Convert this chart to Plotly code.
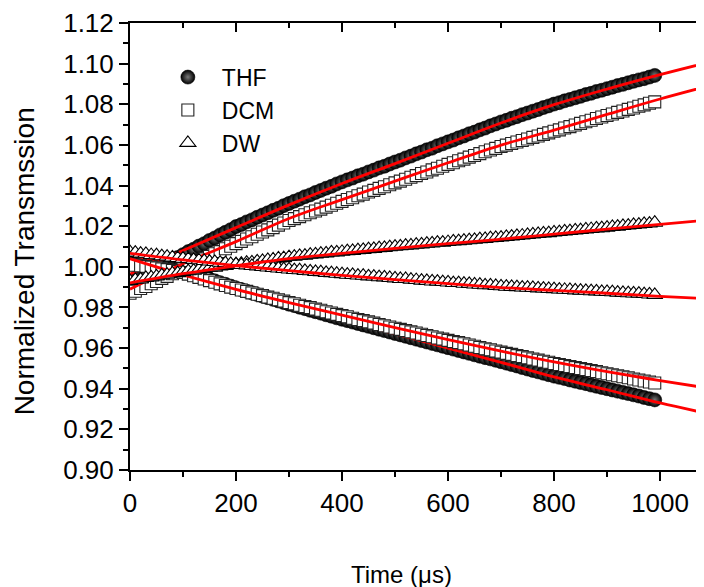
import plotly.graph_objects as go

# ---------------- data ----------------
time_us = list(range(0, 1000, 10))  # sample times, µs

thf_up = [
    0.9930, 0.9938, 0.9951, 0.9962, 0.9978, 0.9990, 1.0004, 1.0018, 1.0031, 1.0046,
    1.0060, 1.0075, 1.0087, 1.0102, 1.0114, 1.0130, 1.0142, 1.0157, 1.0170, 1.0183,
    1.0198, 1.0208, 1.0221, 1.0231, 1.0244, 1.0255, 1.0266, 1.0278, 1.0288, 1.0301,
    1.0312, 1.0323, 1.0333, 1.0345, 1.0354, 1.0366, 1.0376, 1.0387, 1.0396, 1.0408,
    1.0418, 1.0428, 1.0437, 1.0448, 1.0456, 1.0467, 1.0476, 1.0487, 1.0495, 1.0506,
    1.0516, 1.0525, 1.0536, 1.0545, 1.0556, 1.0565, 1.0576, 1.0584, 1.0596, 1.0605,
    1.0615, 1.0624, 1.0635, 1.0644, 1.0655, 1.0663, 1.0674, 1.0683, 1.0694, 1.0703,
    1.0713, 1.0721, 1.0731, 1.0739, 1.0749, 1.0757, 1.0766, 1.0774, 1.0784, 1.0792,
    1.0801, 1.0808, 1.0817, 1.0824, 1.0832, 1.0839, 1.0848, 1.0854, 1.0863, 1.0869,
    1.0877, 1.0884, 1.0892, 1.0898, 1.0906, 1.0913, 1.0920, 1.0926, 1.0934, 1.0942,
]
thf_down = [
    1.0020, 1.0018, 1.0016, 1.0013, 1.0010, 1.0007, 1.0003, 0.9999, 0.9995, 0.9990,
    0.9985, 0.9976, 0.9967, 0.9958, 0.9949, 0.9940, 0.9931, 0.9922, 0.9914, 0.9905,
    0.9896, 0.9888, 0.9880, 0.9872, 0.9864, 0.9856, 0.9848, 0.9840, 0.9832, 0.9824,
    0.9816, 0.9809, 0.9801, 0.9794, 0.9786, 0.9779, 0.9772, 0.9764, 0.9757, 0.9749,
    0.9742, 0.9735, 0.9728, 0.9721, 0.9714, 0.9707, 0.9700, 0.9693, 0.9686, 0.9679,
    0.9672, 0.9665, 0.9658, 0.9651, 0.9644, 0.9637, 0.9630, 0.9623, 0.9616, 0.9609,
    0.9602, 0.9595, 0.9588, 0.9581, 0.9574, 0.9567, 0.9560, 0.9553, 0.9547, 0.9540,
    0.9533, 0.9526, 0.9519, 0.9512, 0.9504, 0.9497, 0.9490, 0.9483, 0.9476, 0.9469,
    0.9462, 0.9456, 0.9450, 0.9443, 0.9437, 0.9431, 0.9425, 0.9418, 0.9412, 0.9406,
    0.9400, 0.9394, 0.9388, 0.9382, 0.9376, 0.9370, 0.9364, 0.9357, 0.9351, 0.9345,
]
dcm_up = [
    0.9870, 0.9880, 0.9893, 0.9903, 0.9917, 0.9928, 0.9943, 0.9953, 0.9966, 0.9977,
    0.9990, 1.0001, 1.0015, 1.0026, 1.0039, 1.0051, 1.0064, 1.0075, 1.0089, 1.0101,
    1.0114, 1.0125, 1.0137, 1.0148, 1.0160, 1.0171, 1.0182, 1.0193, 1.0205, 1.0216,
    1.0228, 1.0237, 1.0247, 1.0256, 1.0266, 1.0275, 1.0284, 1.0294, 1.0303, 1.0313,
    1.0322, 1.0331, 1.0340, 1.0350, 1.0358, 1.0368, 1.0376, 1.0386, 1.0394, 1.0404,
    1.0413, 1.0422, 1.0431, 1.0441, 1.0449, 1.0459, 1.0467, 1.0477, 1.0485, 1.0495,
    1.0504, 1.0512, 1.0522, 1.0530, 1.0540, 1.0548, 1.0557, 1.0566, 1.0575, 1.0583,
    1.0592, 1.0599, 1.0607, 1.0614, 1.0622, 1.0629, 1.0637, 1.0644, 1.0652, 1.0659,
    1.0667, 1.0674, 1.0683, 1.0690, 1.0698, 1.0706, 1.0714, 1.0721, 1.0730, 1.0737,
    1.0745, 1.0752, 1.0760, 1.0767, 1.0775, 1.0782, 1.0790, 1.0797, 1.0805, 1.0812,
]
dcm_down = [
    1.0010, 1.0008, 1.0005, 1.0002, 0.9998, 0.9995, 0.9990, 0.9986, 0.9982, 0.9977,
    0.9972, 0.9964, 0.9956, 0.9948, 0.9940, 0.9932, 0.9924, 0.9916, 0.9908, 0.9900,
    0.9893, 0.9886, 0.9879, 0.9872, 0.9865, 0.9858, 0.9851, 0.9845, 0.9838, 0.9831,
    0.9824, 0.9818, 0.9811, 0.9805, 0.9799, 0.9792, 0.9786, 0.9779, 0.9773, 0.9766,
    0.9760, 0.9754, 0.9747, 0.9741, 0.9735, 0.9729, 0.9723, 0.9716, 0.9710, 0.9704,
    0.9698, 0.9692, 0.9686, 0.9680, 0.9674, 0.9668, 0.9662, 0.9656, 0.9650, 0.9644,
    0.9638, 0.9632, 0.9627, 0.9621, 0.9615, 0.9609, 0.9603, 0.9597, 0.9592, 0.9586,
    0.9580, 0.9574, 0.9569, 0.9563, 0.9558, 0.9552, 0.9546, 0.9541, 0.9535, 0.9530,
    0.9524, 0.9519, 0.9514, 0.9509, 0.9504, 0.9499, 0.9494, 0.9489, 0.9484, 0.9479,
    0.9474, 0.9469, 0.9464, 0.9459, 0.9454, 0.9448, 0.9443, 0.9438, 0.9433, 0.9428,
]
dw_up = [
    0.9930, 0.9936, 0.9938, 0.9945, 0.9948, 0.9953, 0.9958, 0.9961, 0.9967, 0.9969,
    0.9974, 0.9979, 0.9981, 0.9986, 0.9989, 0.9994, 0.9996, 1.0002, 1.0004, 1.0009,
    1.0013, 1.0015, 1.0020, 1.0022, 1.0027, 1.0029, 1.0034, 1.0036, 1.0041, 1.0043,
    1.0048, 1.0050, 1.0054, 1.0055, 1.0060, 1.0061, 1.0065, 1.0066, 1.0071, 1.0071,
    1.0074, 1.0077, 1.0078, 1.0082, 1.0083, 1.0087, 1.0088, 1.0092, 1.0093, 1.0097,
    1.0099, 1.0101, 1.0104, 1.0105, 1.0109, 1.0110, 1.0114, 1.0115, 1.0119, 1.0119,
    1.0122, 1.0125, 1.0126, 1.0129, 1.0131, 1.0133, 1.0136, 1.0137, 1.0141, 1.0142,
    1.0144, 1.0147, 1.0149, 1.0152, 1.0154, 1.0157, 1.0159, 1.0162, 1.0164, 1.0166,
    1.0169, 1.0171, 1.0174, 1.0176, 1.0179, 1.0181, 1.0184, 1.0186, 1.0189, 1.0190,
    1.0193, 1.0196, 1.0198, 1.0201, 1.0203, 1.0206, 1.0208, 1.0211, 1.0213, 1.0217,
]
dw_down = [
    1.0072, 1.0070, 1.0065, 1.0064, 1.0058, 1.0057, 1.0052, 1.0050, 1.0046, 1.0043,
    1.0040, 1.0038, 1.0034, 1.0032, 1.0029, 1.0026, 1.0024, 1.0020, 1.0018, 1.0014,
    1.0012, 1.0009, 1.0007, 1.0004, 1.0002, 0.9999, 0.9997, 0.9994, 0.9992, 0.9989,
    0.9987, 0.9984, 0.9983, 0.9980, 0.9978, 0.9975, 0.9974, 0.9970, 0.9969, 0.9966,
    0.9964, 0.9961, 0.9960, 0.9957, 0.9956, 0.9953, 0.9952, 0.9949, 0.9948, 0.9945,
    0.9943, 0.9940, 0.9940, 0.9937, 0.9935, 0.9932, 0.9931, 0.9928, 0.9927, 0.9925,
    0.9923, 0.9920, 0.9920, 0.9917, 0.9916, 0.9913, 0.9912, 0.9909, 0.9909, 0.9906,
    0.9904, 0.9902, 0.9901, 0.9900, 0.9898, 0.9897, 0.9896, 0.9894, 0.9893, 0.9891,
    0.9890, 0.9888, 0.9887, 0.9886, 0.9884, 0.9883, 0.9882, 0.9880, 0.9879, 0.9877,
    0.9876, 0.9875, 0.9873, 0.9872, 0.9870, 0.9869, 0.9868, 0.9866, 0.9864, 0.9862,
]

# fitted curves (red), read at 100 µs steps
fit_time = [0, 100, 200, 300, 400, 500, 600, 700, 800, 900, 1000, 1100]
thf_up_fit   = [0.9965, 1.0080, 1.0193, 1.0305, 1.0410, 1.0508, 1.0608, 1.0708, 1.0798, 1.0875, 1.0946, 1.1012]
thf_down_fit = [1.0065, 0.9978, 0.9893, 0.9814, 0.9740, 0.9670, 0.9600, 0.9530, 0.9458, 0.9395, 0.9330, 0.9272]
dcm_up_fit   = [0.9890, 1.0015, 1.0124, 1.0238, 1.0331, 1.0422, 1.0512, 1.0599, 1.0673, 1.0750, 1.0826, 1.0896]
dcm_down_fit = [1.0040, 0.9960, 0.9889, 0.9824, 0.9762, 0.9701, 0.9642, 0.9585, 0.9532, 0.9484, 0.9440, 0.9399]
dw_up_fit    = [0.9921, 0.9966, 1.0005, 1.0040, 1.0066, 1.0091, 1.0114, 1.0136, 1.0161, 1.0185, 1.0209, 1.0233]
dw_down_fit  = [1.0066, 1.0034, 1.0006, 0.9981, 0.9958, 0.9937, 0.9917, 0.9898, 0.9884, 0.9870, 0.9855, 0.9842]

x_title = "Time (μs)"
y_title = "Normalized Transmssion"

# ---------------- styles ----------------
FONT = "Arial, Liberation Sans, sans-serif"
thf_marker = dict(symbol="circle", size=14, color="black",
                  gradient=dict(type="radial", color="#7a7a7a"),
                  line=dict(color="black", width=0.6))
dcm_marker = dict(symbol="square", size=12, color="white",
                  line=dict(color="#222222", width=1.1))
dw_marker = dict(symbol="triangle-up", size=14, color="white",
                 line=dict(color="black", width=1.1))
fit_line = dict(color="#ff0000", width=2.8, shape="spline")

fig = go.Figure()

def add_group(name, up, down, up_fit, down_fit, marker):
    fig.add_trace(go.Scatter(x=time_us, y=up, mode="markers", marker=marker,
                             name=name, legendgroup=name, showlegend=True))
    fig.add_trace(go.Scatter(x=time_us, y=down, mode="markers", marker=marker,
                             name=name, legendgroup=name, showlegend=False))
    fig.add_trace(go.Scatter(x=fit_time, y=up_fit, mode="lines", line=fit_line,
                             showlegend=False, hoverinfo="skip"))
    fig.add_trace(go.Scatter(x=fit_time, y=down_fit, mode="lines", line=fit_line,
                             showlegend=False, hoverinfo="skip"))

add_group("THF", thf_up, thf_down, thf_up_fit, thf_down_fit, thf_marker)
add_group("DCM", dcm_up, dcm_down, dcm_up_fit, dcm_down_fit, dcm_marker)
add_group("DW", dw_up, dw_down, dw_up_fit, dw_down_fit, dw_marker)

# helper traces for the top axis and right-side tick stubs
fig.add_trace(go.Scatter(x=[None], y=[None], xaxis="x2", yaxis="y",
                         showlegend=False, hoverinfo="skip"))
fig.add_trace(go.Scatter(x=[None], y=[None], xaxis="x", yaxis="y2",
                         showlegend=False, hoverinfo="skip"))

XR = [0, 1098]
YR = [0.9, 1.12]
axis_common = dict(showgrid=False, zeroline=False, showline=True,
                   linecolor="black", linewidth=2, tickcolor="black",
                   tickwidth=2, ticklen=9)

fig.update_layout(
    width=704, height=587,
    margin=dict(l=122, r=0, t=15, b=125),
    paper_bgcolor="white", plot_bgcolor="white",
    font=dict(family=FONT, color="black", size=25),
    showlegend=True,
    legend=dict(x=0.041, y=0.927, xanchor="left", yanchor="top",
                bgcolor="rgba(0,0,0,0)", font=dict(size=23, family=FONT),
                itemwidth=58, tracegroupgap=0),
    xaxis=dict(range=XR, tick0=0, dtick=200, ticks="outside",
               tickfont=dict(size=26), automargin=False,
               minor=dict(dtick=100, ticks="outside", ticklen=5,
                          tickwidth=1.5, tickcolor="black"),
               **axis_common),
    xaxis2=dict(range=XR, overlaying="x", side="top", anchor="y",
                tick0=0, dtick=200, ticks="inside", showticklabels=False,
                minor=dict(dtick=100, ticks="inside", ticklen=5,
                           tickwidth=1.5, tickcolor="black"),
                **axis_common),
    yaxis=dict(range=YR, tick0=0.9, dtick=0.02, tickformat=".2f",
               ticks="outside", tickfont=dict(size=26), automargin=False,
               ticklabeloverflow="allow",
               minor=dict(dtick=0.01, ticks="outside", ticklen=5,
                          tickwidth=1.5, tickcolor="black"),
               **axis_common),
    yaxis2=dict(range=YR, overlaying="y", side="right", anchor="x",
                tick0=0.9, dtick=0.02, ticks="inside", ticklen=3,
                tickwidth=2, tickcolor="black", showticklabels=False,
                showline=False, showgrid=False, zeroline=False),
    annotations=[
        dict(text=x_title, xref="paper", yref="paper", x=0.467, y=-0.234,
             xanchor="center", yanchor="middle", showarrow=False,
             font=dict(size=24, family=FONT, color="black")),
        dict(text=y_title, xref="paper", yref="paper", x=-0.181, y=0.466,
             xanchor="center", yanchor="middle", showarrow=False,
             textangle=-90,
             font=dict(size=28, family=FONT, color="black")),
    ],
)

fig.write_html("out.html")
